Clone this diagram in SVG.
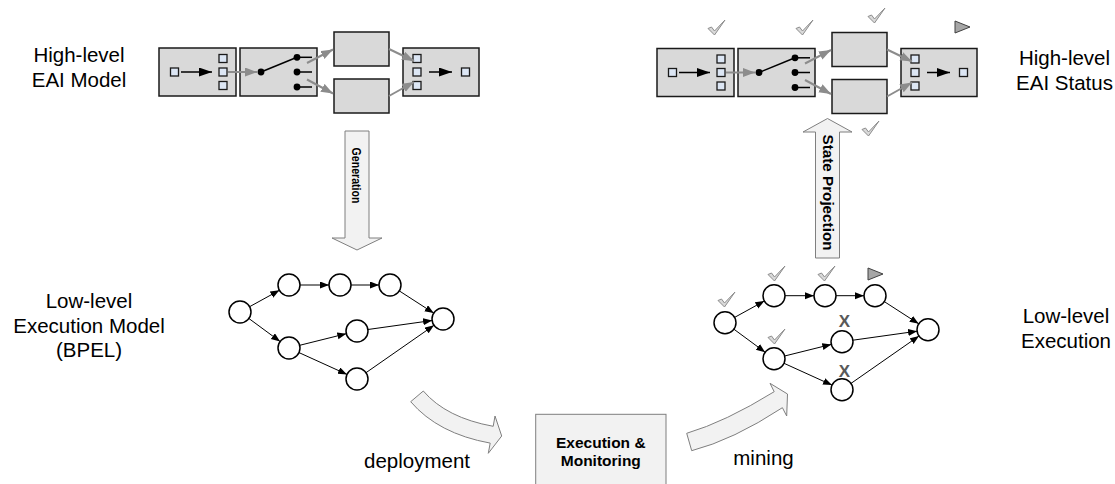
<svg xmlns="http://www.w3.org/2000/svg" width="1115" height="484" viewBox="0 0 1115 484">
<style>
.box{fill:#d9d9d9;stroke:#1a1a1a;stroke-width:1.5}
.sq{fill:#dce6f4;stroke:#1a1a1a;stroke-width:1.3}
.garr{stroke:#8c8c8c;stroke-width:2;fill:none;marker-end:url(#gh)}
.barr{stroke:#000;stroke-width:1.5;fill:none;marker-end:url(#bh)}
.sw{stroke:#000;stroke-width:1.5;fill:none}
.dot{fill:#000}
.node{fill:#fff;stroke:#000;stroke-width:1.5}
.edge{stroke:#000;stroke-width:1;fill:none;marker-end:url(#ah)}
.blk{fill:#f2f2f2;stroke:#7f7f7f;stroke-width:1}
.lbl{font-family:"Liberation Sans",Arial,sans-serif;font-size:20.5px;fill:#000;text-anchor:middle}
.bold{font-family:"Liberation Sans",Arial,sans-serif;font-weight:bold;fill:#000;text-anchor:middle}
.chk{fill:#d9d9d9;stroke:#8c8c8c;stroke-width:1;stroke-linejoin:round}
.play{fill:#a6a6a6;stroke:#404040;stroke-width:1;stroke-linejoin:round}
.xm{font-family:"Liberation Sans",Arial,sans-serif;font-weight:bold;font-size:17px;fill:#595959;text-anchor:middle}
</style>
<defs>
<marker id="ah" markerUnits="userSpaceOnUse" markerWidth="10" markerHeight="8" refX="9" refY="3.5" orient="auto"><path d="M0,0 L9,3.5 L0,7 Z" fill="#000"/></marker>
<marker id="gh" markerUnits="userSpaceOnUse" markerWidth="13" markerHeight="10" refX="12" refY="4.5" orient="auto"><path d="M0,0 L12,4.5 L0,9 Z" fill="#8c8c8c"/></marker>
<marker id="bh" markerUnits="userSpaceOnUse" markerWidth="14" markerHeight="10" refX="13" refY="4.5" orient="auto"><path d="M0,0 L13,4.5 L0,9 Z" fill="#000"/></marker>
<path id="chkp" d="M0,8.5 L3.5,7 L6.5,11 L17,0 L6.5,15 Z"/>
<path id="playp" d="M0,0 L15,6 L0,12 Z"/>
</defs>

<!-- Labels -->
<g id="labels">
<text class="lbl" x="79" y="62.3">High-level</text>
<text class="lbl" x="79" y="86.8">EAI Model</text>
<text class="lbl" x="1064.5" y="65.3">High-level</text>
<text class="lbl" x="1064.5" y="89.8">EAI Status</text>
<text class="lbl" x="89" y="308.3">Low-level</text>
<text class="lbl" x="89" y="332.8">Execution Model</text>
<text class="lbl" x="89" y="357.3">(BPEL)</text>
<text class="lbl" x="1066" y="323.3">Low-level</text>
<text class="lbl" x="1066" y="347.8">Execution</text>
</g>

<!-- High-level EAI model (left) -->
<g id="eai-model">
<g id="m-split">
<rect class="box" x="159" y="48" width="77" height="48"/>
<rect class="sq" x="170.5" y="68" width="8" height="8"/>
<line class="barr" x1="181" y1="72" x2="212" y2="72"/>
<rect class="sq" x="219" y="54.5" width="8" height="8"/>
<rect class="sq" x="219" y="68" width="8" height="8"/>
<rect class="sq" x="219" y="81.5" width="8" height="8"/>
</g>
<g id="m-switch">
<rect class="box" x="240" y="48" width="77" height="48"/>
<line class="sw" x1="261" y1="72" x2="297" y2="57.3"/>
<line class="sw" x1="297" y1="57.3" x2="312" y2="57.3"/>
<line class="sw" x1="297" y1="72" x2="312" y2="72"/>
<line class="sw" x1="297" y1="87" x2="312" y2="87"/>
<circle class="dot" cx="261" cy="72" r="3.4"/>
<circle class="dot" cx="297" cy="57.3" r="3.4"/>
<circle class="dot" cx="297" cy="72" r="3.4"/>
<circle class="dot" cx="297" cy="87" r="3.4"/>
</g>
<g id="m-task1"><rect class="box" x="334" y="32" width="55" height="34"/></g>
<g id="m-task2"><rect class="box" x="334" y="79" width="55" height="34"/></g>
<g id="m-join">
<rect class="box" x="403" y="48" width="76" height="48"/>
<rect class="sq" x="413" y="54.5" width="8" height="8"/>
<rect class="sq" x="413" y="68" width="8" height="8"/>
<rect class="sq" x="413" y="81.5" width="8" height="8"/>
<line class="barr" x1="429" y1="72" x2="452" y2="72"/>
<rect class="sq" x="461.5" y="68" width="8" height="8"/>
</g>
</g>

<!-- High-level EAI status (right) -->
<g id="eai-status" transform="translate(498,0.5)">
<g id="s-split">
<rect class="box" x="159" y="48" width="77" height="48"/>
<rect class="sq" x="170.5" y="68" width="8" height="8"/>
<line class="barr" x1="181" y1="72" x2="212" y2="72"/>
<rect class="sq" x="219" y="54.5" width="8" height="8"/>
<rect class="sq" x="219" y="68" width="8" height="8"/>
<rect class="sq" x="219" y="81.5" width="8" height="8"/>
</g>
<g id="s-switch">
<rect class="box" x="240" y="48" width="77" height="48"/>
<line class="sw" x1="261" y1="72" x2="297" y2="57.3"/>
<line class="sw" x1="297" y1="57.3" x2="312" y2="57.3"/>
<line class="sw" x1="297" y1="72" x2="312" y2="72"/>
<line class="sw" x1="297" y1="87" x2="312" y2="87"/>
<circle class="dot" cx="261" cy="72" r="3.4"/>
<circle class="dot" cx="297" cy="57.3" r="3.4"/>
<circle class="dot" cx="297" cy="72" r="3.4"/>
<circle class="dot" cx="297" cy="87" r="3.4"/>
</g>
<g id="s-task1"><rect class="box" x="334" y="32" width="55" height="34"/></g>
<g id="s-task2"><rect class="box" x="334" y="79" width="55" height="34"/></g>
<g id="s-join">
<rect class="box" x="403" y="48" width="76" height="48"/>
<rect class="sq" x="413" y="54.5" width="8" height="8"/>
<rect class="sq" x="413" y="68" width="8" height="8"/>
<rect class="sq" x="413" y="81.5" width="8" height="8"/>
<line class="barr" x1="429" y1="72" x2="452" y2="72"/>
<rect class="sq" x="461.5" y="68" width="8" height="8"/>
</g>
</g>

<!-- Status marks -->
<g id="status-marks">
<use href="#chkp" class="chk" x="708" y="20"/>
<use href="#chkp" class="chk" x="796" y="20"/>
<use href="#chkp" class="chk" x="868" y="8"/>
<use href="#chkp" class="chk" x="862" y="121"/>
<use href="#playp" class="play" x="955" y="21"/>
<use href="#chkp" class="chk" x="718" y="292"/>
<use href="#chkp" class="chk" x="768" y="266"/>
<use href="#chkp" class="chk" x="818" y="266"/>
<use href="#playp" class="play" x="868" y="268"/>
<use href="#chkp" class="chk" x="768" y="329"/>
<text class="xm" x="844.5" y="327">X</text>
<text class="xm" x="844.5" y="377">X</text>
</g>

<!-- Low-level execution model (left) -->
<g id="bpel-model">
<g id="b-n1"><circle class="node" cx="240" cy="312" r="11"/></g>
<g id="b-n2"><circle class="node" cx="289" cy="285" r="11"/></g>
<g id="b-n3"><circle class="node" cx="340" cy="285" r="11"/></g>
<g id="b-n4"><circle class="node" cx="390" cy="285" r="11"/></g>
<g id="b-n5"><circle class="node" cx="443" cy="319" r="11"/></g>
<g id="b-n6"><circle class="node" cx="357" cy="331" r="11"/></g>
<g id="b-n7"><circle class="node" cx="289" cy="348" r="11"/></g>
<g id="b-n8"><circle class="node" cx="357" cy="379" r="11"/></g>
</g>

<!-- Low-level execution (right) -->
<g id="exec-model" transform="translate(485,10.7)">
<g id="e-n1"><circle class="node" cx="240" cy="312" r="11"/></g>
<g id="e-n2"><circle class="node" cx="289" cy="285" r="11"/></g>
<g id="e-n3"><circle class="node" cx="340" cy="285" r="11"/></g>
<g id="e-n4"><circle class="node" cx="390" cy="285" r="11"/></g>
<g id="e-n5"><circle class="node" cx="443" cy="319" r="11"/></g>
<g id="e-n6"><circle class="node" cx="357" cy="331" r="11"/></g>
<g id="e-n7"><circle class="node" cx="289" cy="348" r="11"/></g>
<g id="e-n8"><circle class="node" cx="357" cy="379" r="11"/></g>
</g>

<!-- Execution & Monitoring -->
<g id="exec-monitoring">
<rect class="blk" x="535.7" y="414.3" width="130.3" height="90"/>
<text class="bold" x="600.8" y="447.5" font-size="15.5">Execution &amp;</text>
<text class="bold" x="600.8" y="465.5" font-size="15.5">Monitoring</text>
</g>

<!-- Connectors -->
<g id="connectors">
<g id="model-arrows">
<line class="garr" x1="228" y1="72" x2="257" y2="72"/>
<line class="garr" x1="307" y1="63" x2="333" y2="49.5"/>
<line class="garr" x1="307" y1="79.5" x2="333" y2="93.5"/>
<line class="garr" x1="389" y1="49" x2="414" y2="61"/>
<line class="garr" x1="389" y1="96" x2="414" y2="82"/>
</g>
<g id="status-arrows" transform="translate(498,0.5)">
<line class="garr" x1="228" y1="72" x2="257" y2="72"/>
<line class="garr" x1="307" y1="63" x2="333" y2="49.5"/>
<line class="garr" x1="307" y1="79.5" x2="333" y2="93.5"/>
<line class="garr" x1="389" y1="49" x2="414" y2="61"/>
<line class="garr" x1="389" y1="96" x2="414" y2="82"/>
</g>
<g id="bpel-edges">
<line class="edge" x1="249.6" y1="306.7" x2="279.4" y2="290.3"/>
<line class="edge" x1="248.9" y1="318.5" x2="280.1" y2="341.5"/>
<line class="edge" x1="300" y1="285" x2="329" y2="285"/>
<line class="edge" x1="351" y1="285" x2="379" y2="285"/>
<line class="edge" x1="399.3" y1="290.9" x2="433.7" y2="313.1"/>
<line class="edge" x1="367.9" y1="329.5" x2="432.1" y2="320.5"/>
<line class="edge" x1="299.7" y1="345.3" x2="346.3" y2="333.7"/>
<line class="edge" x1="299" y1="352.6" x2="347" y2="374.4"/>
<line class="edge" x1="366" y1="372.7" x2="434" y2="325.3"/>
</g>
<g id="exec-edges" transform="translate(485,10.7)">
<line class="edge" x1="249.6" y1="306.7" x2="279.4" y2="290.3"/>
<line class="edge" x1="248.9" y1="318.5" x2="280.1" y2="341.5"/>
<line class="edge" x1="300" y1="285" x2="329" y2="285"/>
<line class="edge" x1="351" y1="285" x2="379" y2="285"/>
<line class="edge" x1="399.3" y1="290.9" x2="433.7" y2="313.1"/>
<line class="edge" x1="367.9" y1="329.5" x2="432.1" y2="320.5"/>
<line class="edge" x1="299.7" y1="345.3" x2="346.3" y2="333.7"/>
<line class="edge" x1="299" y1="352.6" x2="347" y2="374.4"/>
<line class="edge" x1="366" y1="372.7" x2="434" y2="325.3"/>
</g>
<g id="generation">
<path class="blk" d="M345,131 L369,131 L369,238 L382,238 L357,250 L332,238 L345,238 Z"/>
<text class="bold" font-size="13.5" textLength="56" lengthAdjust="spacingAndGlyphs" transform="translate(357,175.5) rotate(90)" dy="0.36em">Generation</text>
</g>
<g id="state-projection">
<path class="blk" d="M815.5,258 L839.5,258 L839.5,132 L852,132 L827.5,118.5 L803,132 L815.5,132 Z"/>
<text class="bold" font-size="14.5" textLength="116" lengthAdjust="spacingAndGlyphs" transform="translate(828,192.5) rotate(90)" dy="0.36em">State Projection</text>
</g>
<g id="deployment">
<path class="blk" d="M423.3,391 Q446.2,417.8 493.2,426.3 L495,416 L501.7,436 L488.3,453.3 L490.2,443.1 Q438.1,433.7 410.7,401.7 Z"/>
<text class="lbl" x="470" y="468" style="text-anchor:end">deployment</text>
</g>
<g id="mining">
<path class="blk" d="M686.7,433.3 Q725,422 774.2,391.7 L770,383.3 L787.5,394 L786.7,416 L782.4,407.7 Q733,440 691.7,450.7 Z"/>
<text class="lbl" x="733.3" y="465" style="text-anchor:start">mining</text>
</g>
</g>
</svg>
